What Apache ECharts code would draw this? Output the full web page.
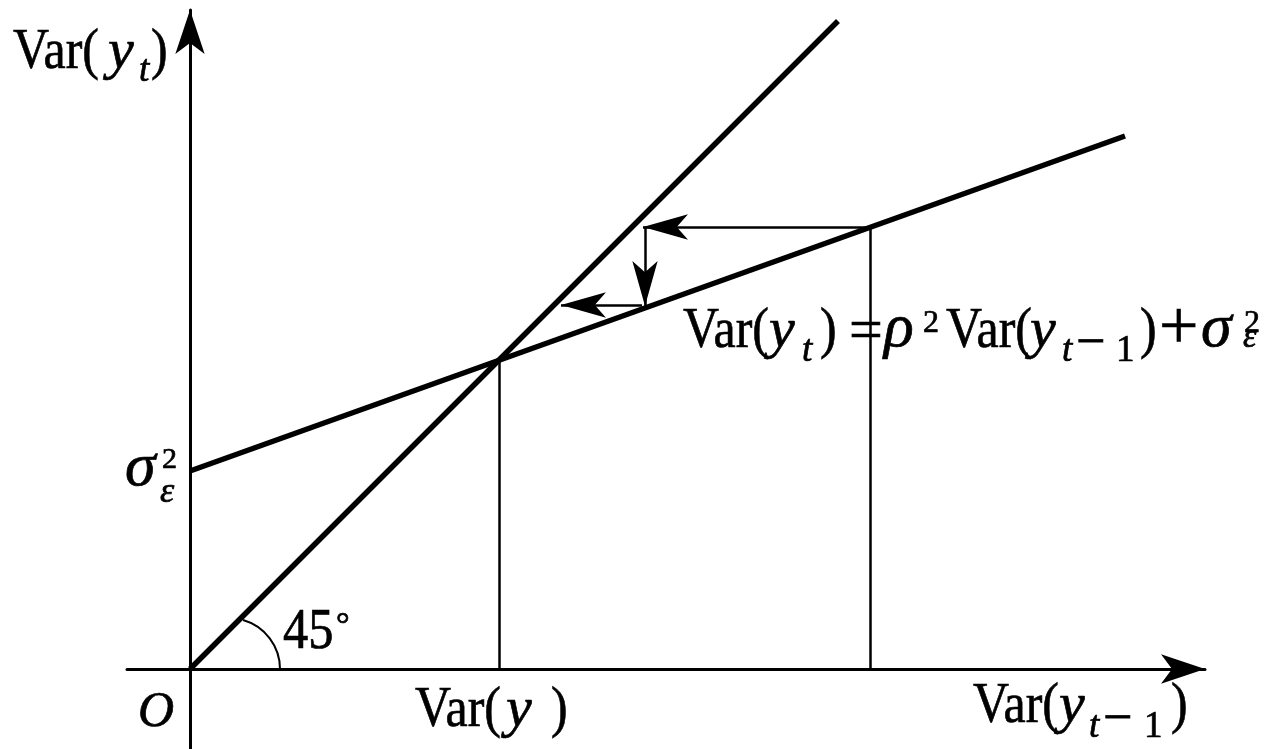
<!DOCTYPE html>
<html>
<head>
<meta charset="utf-8">
<script src="https://cdn.jsdelivr.net/npm/echarts@6/dist/echarts.min.js"></script>
<style>
    html, body {margin: 0; padding: 0; background: #fff;}
    #main {width: 1281px; height: 749px;}
</style>
</head>
<body>
<div id="main"></div>
<script>
// axis extent, in variance units (O at 0,0)
let xRange = [-0.63, 10.15];
let yRange = [-0.80, 6.59];

// 45 degree line: Var(y_t) = Var(y_{t-1})
let diagLine = [[0, 0], [6.48, 6.48]];
// Var(y_t) = rho^2 Var(y_{t-1}) + sigma^2  (intercept 1.98, slope ~0.358)
let varLine = [[0, 1.98], [9.35, 5.33]];
// drop lines at the fixed point Var(y) and at the starting value
let dropLines = [
    [[3.09, 0], [3.09, 3.09]],
    [[6.80, 0], [6.80, 4.42]]
];
// steps toward the fixed point: [from, arrow tip]
let stepArrows = [
    [[6.80, 4.42], [4.53, 4.42]],
    [[4.55, 4.42], [4.55, 3.63]],
    [[4.52, 3.64], [3.71, 3.64]]
];
// centre of the small angle mark on the x axis
let angleMark = [0.39, 0];

const SERIF = '"Liberation Serif", "Times New Roman", serif';

let myChart = echarts.init(document.getElementById('main'));

function axis(range) {
    return {
        type: 'value',
        min: range[0],
        max: range[1],
        axisLine: {
            show: true,
            onZero: true,
            symbol: ['none', 'arrow'],
            symbolSize: [22, 44],
            lineStyle: {color: '#000', width: 3}
        },
        axisTick: {show: false},
        axisLabel: {show: false},
        splitLine: {show: false}
    };
}

function straight(data, width) {
    return {
        type: 'line',
        data: data,
        symbol: 'none',
        clip: false,
        silent: true,
        z: 3,
        lineStyle: {color: '#000', width: width}
    };
}

myChart.setOption({
    animation: false,
    backgroundColor: '#fff',
    grid: {left: 127, right: 76, top: 10, bottom: 0, outerBoundsMode: 'none'},
    xAxis: axis(xRange),
    yAxis: axis(yRange),
    series: [
        straight(diagLine, 5.5),
        straight(varLine, 5.5),
        {
            type: 'lines',
            coordinateSystem: 'cartesian2d',
            silent: true,
            data: dropLines.map(c => ({coords: c})),
            lineStyle: {color: '#000', width: 2.5, opacity: 1}
        },
        {
            type: 'lines',
            coordinateSystem: 'cartesian2d',
            silent: true,
            symbol: ['none', 'arrow'],
            symbolSize: [[19, 45], [19, 45]],
            data: stepArrows.map(c => ({coords: c})),
            lineStyle: {color: '#000', width: 2.5, opacity: 1}
        }
    ]
});

let toPx = p => myChart.convertToPixel({gridIndex: 0}, p);
let unit = toPx([1, 0])[0] - toPx([0, 0])[0];

// one label = several text pieces (sub/superscripts), placed from a data anchor
function mathLabel(anchor, pieces) {
    let p0 = toPx(anchor);
    return pieces.map(p => ({
        type: 'text',
        x: p0[0] + p.at,
        y: p0[1] + (p.dy || 0) - 0.3375 * p.s,
        scaleX: p.sx || 1,
        silent: true,
        z: 10,
        style: {
            text: p.t,
            fill: '#000',
            stroke: '#000',
            lineWidth: 0.7,
            fontSize: p.s,
            fontFamily: SERIF,
            fontStyle: p.i ? 'italic' : 'normal',
            textAlign: 'left',
            textVerticalAlign: 'middle',
            align: 'left',
            verticalAlign: 'middle'
        }
    }));
}

let graphics = [].concat(
    // y axis name Var(y_t)
    mathLabel([-1.77, 5.97], [
        {t: 'Var(', s: 58, sx: 0.86, at: 0},
        {t: 'y', s: 58, i: 1, at: 95},
        {t: 't', s: 37, i: 1, at: 126, dy: 12},
        {t: ')', s: 58, sx: 0.86, at: 138}
    ]),
    // intercept sigma_eps^2
    mathLabel([-0.63, 1.79], [
        {t: 'σ', s: 62, i: 1, at: -2},
        {t: '2', s: 30, at: 35, dy: -20},
        {t: 'ε', s: 36, i: 1, at: 33, dy: 15}
    ]),
    mathLabel([-0.52, -0.61], [
        {t: 'O', s: 50, i: 1, at: 0}
    ]),
    mathLabel([0.93, 0.17], [
        {t: '45', s: 56, sx: 0.9, at: 0},
        {t: '°', s: 34, at: 53, dy: -14}
    ]),
    // x axis: Var(y) and Var(y_{t-1})
    mathLabel([2.25, -0.61], [
        {t: 'Var(', s: 58, sx: 0.86, at: 0},
        {t: 'y', s: 58, i: 1, at: 91},
        {t: ')', s: 58, sx: 0.86, at: 136}
    ]),
    mathLabel([7.83, -0.57], [
        {t: 'Var(', s: 58, sx: 0.86, at: 0},
        {t: 'y', s: 58, i: 1, at: 86},
        {t: 't', s: 37, i: 1, at: 116, dy: 14},
        {t: '−', s: 52, at: 130, dy: 12},
        {t: '1', s: 37, at: 171, dy: 14},
        {t: ')', s: 58, sx: 0.86, at: 198}
    ]),
    // the equation of the line
    mathLabel([4.93, 3.18], [
        {t: 'Var(', s: 58, sx: 0.86, at: 0},
        {t: 'y', s: 58, i: 1, at: 86},
        {t: 't', s: 37, i: 1, at: 119, dy: 13},
        {t: ')', s: 58, sx: 0.86, at: 137},
        {t: '=', s: 60, at: 166, dy: 2},
        {t: 'ρ', s: 62, i: 1, at: 201},
        {t: '2', s: 32, at: 240, dy: -17},
        {t: 'Var(', s: 58, sx: 0.86, at: 263},
        {t: 'y', s: 58, i: 1, at: 347},
        {t: 't', s: 37, i: 1, at: 379, dy: 13},
        {t: '−', s: 52, at: 393, dy: 11},
        {t: '1', s: 37, at: 433, dy: 13},
        {t: ')', s: 58, sx: 0.86, at: 457},
        {t: '+', s: 70, at: 476, dy: 3},
        {t: 'σ', s: 62, i: 1, at: 518},
        {t: '2', s: 32, at: 561, dy: -17},
        {t: 'ε', s: 34, i: 1, at: 560, dy: -1}
    ])
);

let arcCentre = toPx(angleMark);
graphics.push({
    type: 'arc',
    silent: true,
    z: 5,
    shape: {
        cx: arcCentre[0],
        cy: arcCentre[1],
        r: 0.51 * unit,
        startAngle: -74 * Math.PI / 180,
        endAngle: 0,
        clockwise: true
    },
    style: {stroke: '#000', lineWidth: 2, fill: null}
});

myChart.setOption({graphic: {elements: graphics}});
</script>
</body>
</html>
